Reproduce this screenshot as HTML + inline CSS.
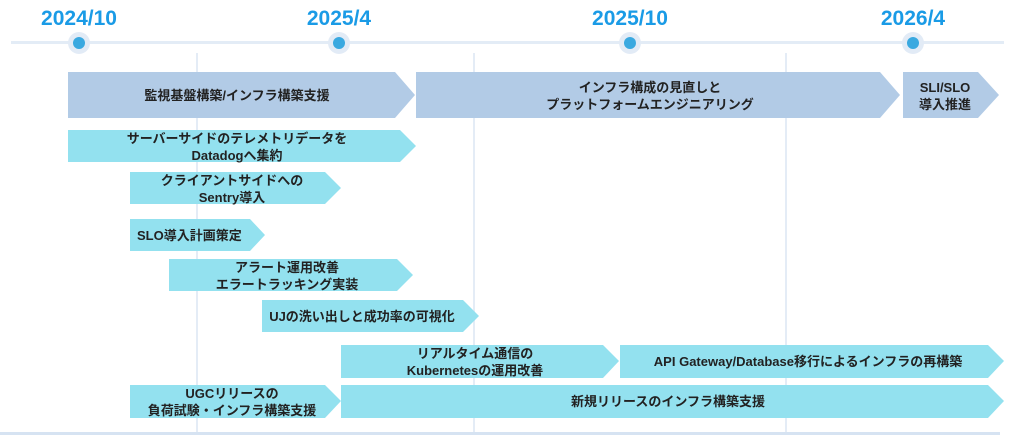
<!DOCTYPE html>
<html><head><meta charset="utf-8"><style>
html,body{margin:0;padding:0;background:#fff;width:1024px;height:440px;overflow:hidden}
svg text{font-family:"Liberation Sans","Noto Sans CJK JP",sans-serif;font-weight:bold;fill:#222;font-size:13px}
svg text.d{fill:#1a9be6;font-size:21px}
</style></head><body>
<svg width="1024" height="440" viewBox="0 0 1024 440" xmlns="http://www.w3.org/2000/svg">
<g stroke="#e4ecf6" stroke-width="2">
<line x1="197" y1="53" x2="197" y2="432"/>
<line x1="474" y1="53" x2="474" y2="432"/>
<line x1="786" y1="53" x2="786" y2="432"/>
</g>
<line x1="11" y1="42.5" x2="1004" y2="42.5" stroke="#e3ecf6" stroke-width="3"/>
<line x1="0" y1="433.5" x2="1000" y2="433.5" stroke="#d6e3f2" stroke-width="3"/>
<g>
<circle cx="79" cy="43" r="11" fill="#e2ebf6"/><circle cx="79" cy="43" r="6" fill="#3aa9e0"/>
<circle cx="339" cy="43" r="11" fill="#e2ebf6"/><circle cx="339" cy="43" r="6" fill="#3aa9e0"/>
<circle cx="630" cy="43" r="11" fill="#e2ebf6"/><circle cx="630" cy="43" r="6" fill="#3aa9e0"/>
<circle cx="913" cy="43" r="11" fill="#e2ebf6"/><circle cx="913" cy="43" r="6" fill="#3aa9e0"/>
</g>
<g text-anchor="middle">
<text class="d" x="79" y="25">2024/10</text>
<text class="d" x="339" y="25">2025/4</text>
<text class="d" x="630" y="25">2025/10</text>
<text class="d" x="913" y="25">2026/4</text>
</g>
<g fill="#b2cbe6">
<polygon points="68,72 395,72 415,95 395,118 68,118"/>
<polygon points="416,72 880,72 900,95 880,118 416,118"/>
<polygon points="903,72 978,72 999,95 978,118 903,118"/>
</g>
<g fill="#93e1ef">
<polygon points="68,130 400,130 416,146 400,162 68,162"/>
<polygon points="130,172 325,172 341,188 325,204 130,204"/>
<polygon points="130,219 250,219 265,235 250,251 130,251"/>
<polygon points="169,259 397,259 413,275 397,291 169,291"/>
<polygon points="262,300 463,300 479,316 463,332 262,332"/>
<polygon points="341,345 603,345 619,361 603,378 341,378"/>
<polygon points="620,345 988,345 1004,361 988,378 620,378"/>
<polygon points="130,385 325,385 341,401 325,418 130,418"/>
<polygon points="341,385 988,385 1004,401 988,418 341,418"/>
</g>
<g text-anchor="middle">
<text x="237" y="100">監視基盤構築/インフラ構築支援</text>
<text x="650" y="92">インフラ構成の見直しと</text>
<text x="650" y="109">プラットフォームエンジニアリング</text>
<text x="945" y="92">SLI/SLO</text>
<text x="945" y="109">導入推進</text>
<text x="237" y="143">サーバーサイドのテレメトリデータを</text>
<text x="237" y="160">Datadogへ集約</text>
<text x="232" y="185">クライアントサイドへの</text>
<text x="232" y="202">Sentry導入</text>
<text x="137" y="240" text-anchor="start">SLO導入計画策定</text>
<text x="287" y="272">アラート運用改善</text>
<text x="287" y="289">エラートラッキング実装</text>
<text x="362" y="321">UJの洗い出しと成功率の可視化</text>
<text x="475" y="358">リアルタイム通信の</text>
<text x="475" y="375">Kubernetesの運用改善</text>
<text x="808" y="366">API Gateway/Database移行によるインフラの再構築</text>
<text x="232" y="398">UGCリリースの</text>
<text x="232" y="415">負荷試験・インフラ構築支援</text>
<text x="668" y="406">新規リリースのインフラ構築支援</text>
</g>
</svg>
</body></html>
